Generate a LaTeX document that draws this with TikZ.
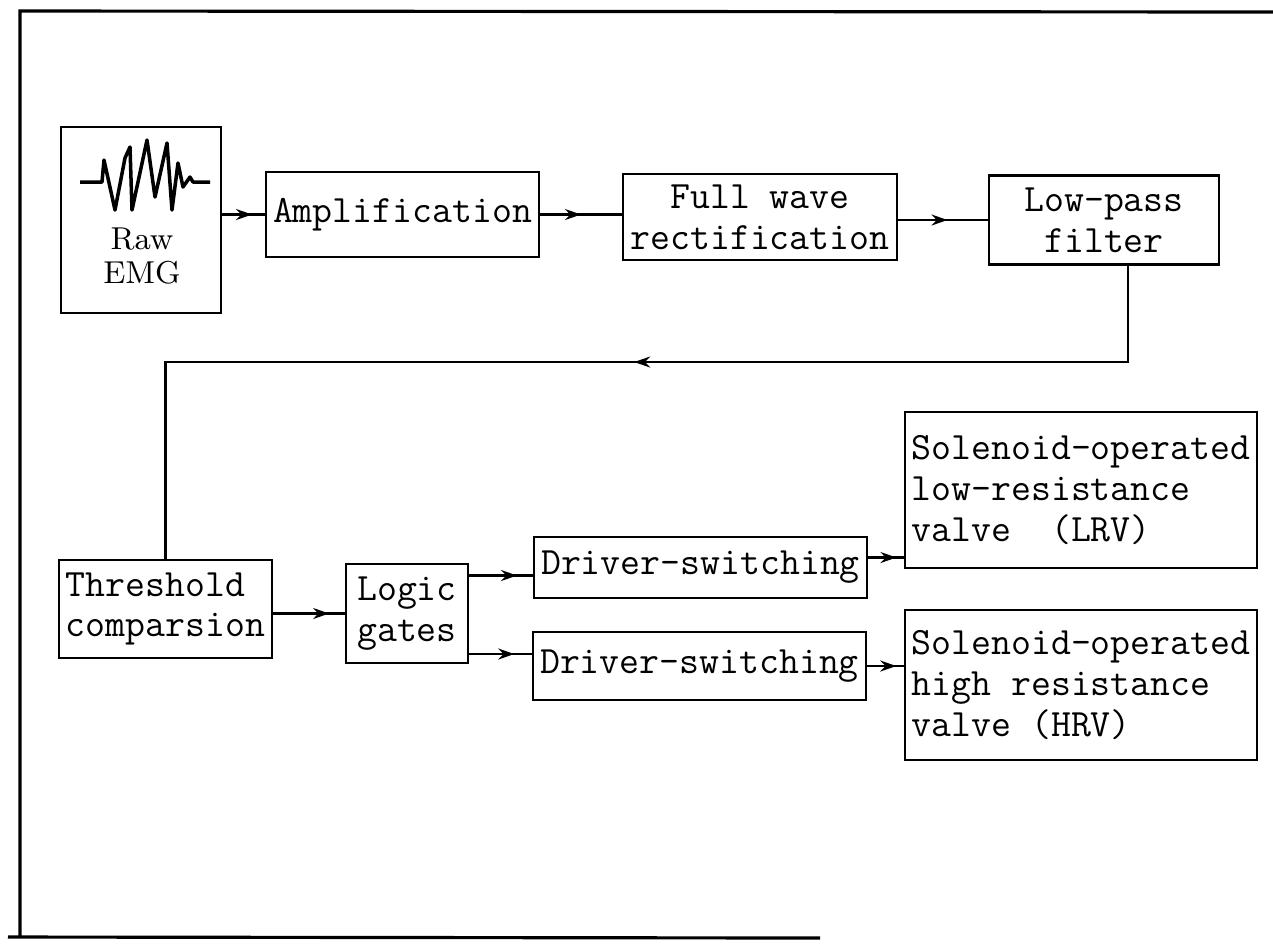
\documentclass[tikz,border=0pt]{standalone}
\usepackage{fontspec}
\usetikzlibrary{arrows.meta,decorations.markings,calc}

\tikzset{
	block/.style={draw, line width=0.6pt, inner sep=2pt, align=center, font=\fontsize{11}{11.6}\selectfont\ttfamily},
	blockgross/.style 2 args={block, minimum width=#1, minimum height=#2},
	pfeil/.style={line width=0.6pt, postaction={decorate},
		decoration={markings, mark=at position #1 with {\arrow{Stealth[length=1.6mm,width=1.1mm]}}}},
	pfeil/.default=0.6
}

\begin{document}
\begin{tikzpicture}[x=0.01cm, y=-0.01cm]
		\useasboundingbox (0,0) rectangle (1273,947);
		% Rahmen
		\draw[line width=0.9pt] (1273,12) -- (20,11) -- (20,937);
		\draw[line width=0.9pt] (8,937) -- (820,938);
		% Rohsignal
		\node[draw, line width=0.6pt, minimum width=1.60cm, minimum height=1.86cm] (raw) at (141,220) {};
		\draw[line width=1pt, line join=round] (80,182) -- (102,182) -- (104,160) -- (115,210) -- (125,158) -- (130,147)
			-- (132,210) -- (147,140) -- (155,197) -- (167,143) -- (172,210) -- (178,163) -- (183,187)
			-- (190,177) -- (193,182) -- (210,182);
		\node[font=\fontsize{9}{9.4}\selectfont\rmfamily, align=center] (rawtxt) at (142,256) {Raw\\EMG};
		% Bloecke
		\node[blockgross={2.71cm}{0.85cm}] (amp) at (402.5,214.5) {Amplification};
		\node[blockgross={2.74cm}{0.86cm}] (fw) at (760,217) {Full wave\\rectification};
		\node[blockgross={2.30cm}{0.89cm}] (lp) at (1104,220) {Low-pass\\filter};
		\node[blockgross={2.13cm}{0.98cm}, align=left] (thr) at (165.5,609) {Threshold\\comparsion};
		\node[blockgross={1.22cm}{0.99cm}, align=left] (logic) at (407,613.5) {Logic\\gates};
		\node[blockgross={3.31cm}{0.61cm}] (drv1) at (700.5,567.5) {Driver-switching};
		\node[blockgross={3.33cm}{0.68cm}] (drv2) at (699.5,666) {Driver-switching};
		\node[blockgross={3.48cm}{1.56cm}, align=left] (lrv) at (1081,490)
			{Solenoid-operated\\low-resistance\\valve~~(LRV)};
		\node[blockgross={3.48cm}{1.50cm}, align=left] (hrv) at (1081,685)
			{Solenoid-operated\\high resistance\\valve (HRV)};
		% Verbindungen
		\draw[pfeil=0.7] (amp.west -| raw.east) -- (amp.west);
		\draw[pfeil=0.5] (amp.east) -- (amp.east -| fw.west);
		\draw[pfeil=0.55] (lp.west -| fw.east) -- (lp.west);
		\coordinate (rueck) at (1128,362);
		\draw[pfeil=0.47] (lp.south -| rueck) -- (rueck) -- (rueck -| thr.north) -- (thr.north);
		\draw[pfeil=0.78] (logic.west -| thr.east) -- (logic.west);
		\coordinate (d1) at ($(drv1.west)+(0,8)$);
		\coordinate (d2) at ($(drv2.west)+(0,-12)$);
		\draw[pfeil=0.75] (d1 -| logic.east) -- (d1);
		\draw[pfeil=0.72] (d2 -| logic.east) -- (d2);
		\coordinate (v1) at ($(drv1.east)+(0,-10)$);
		\draw[pfeil=0.8] (v1) -- (v1 -| lrv.west);
		\draw[pfeil=0.8] (drv2.east) -- (drv2.east -| hrv.west);
\end{tikzpicture}
\end{document}
